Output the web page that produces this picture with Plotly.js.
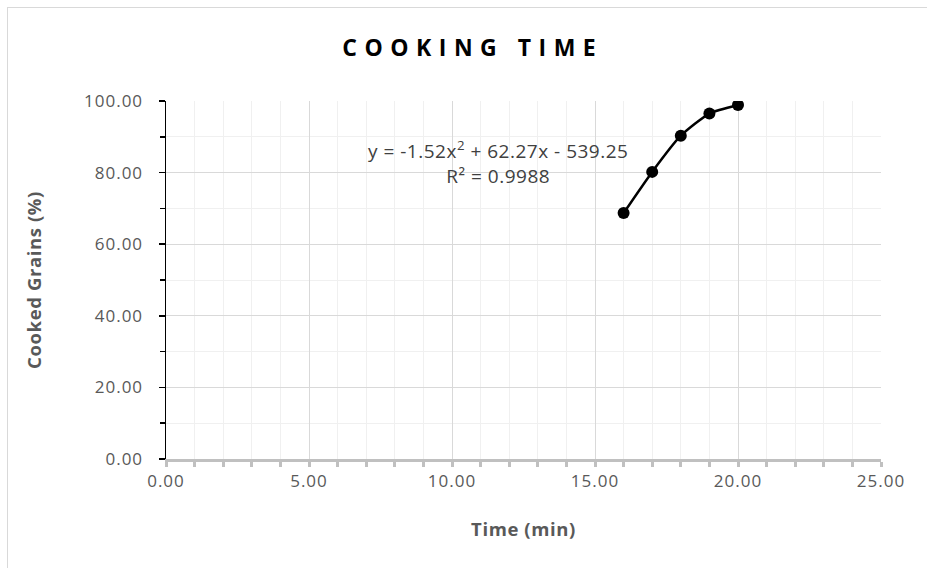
<!DOCTYPE html>
<html>
<head>
<meta charset="utf-8">
<script src="https://cdn.plot.ly/plotly-3.0.1.min.js"></script>
<style>
html,body{margin:0;padding:0;background:#fff;}
#wrap{position:relative;width:927px;height:568px;}
#chart{position:absolute;left:0;top:0;width:927px;height:568px;}
#frame{position:absolute;left:7px;top:7px;right:0;bottom:0;border-top:1px solid #d9d9d9;border-left:1px solid #d9d9d9;pointer-events:none;}
.gtitle{letter-spacing:7.5px;}
.xtick text,.ytick text{letter-spacing:1px;}
.xtitle,.ytitle{letter-spacing:0.6px;}
.annotation-text{letter-spacing:0.5px;}
</style>
</head>
<body>
<div id="wrap"><div id="chart"></div><div id="frame"></div></div>
<script>
// Data
const timeMin = [16, 17, 18, 19, 20];
const cookedPct = [68.7, 80.2, 90.3, 96.5, 98.9];
const chartTitle = "COOKING TIME";
const xTitle = "Time (min)";
const yTitle = "Cooked Grains (%)";
const trendText = "y = -1.52x<sup>2</sup> + 62.27x - 539.25<br>R² = 0.9988";
const trendPos = [11.6, 82.8];

const trace = {
  x: timeMin, y: cookedPct, type: 'scatter', mode: 'lines+markers',
  line: {color: '#000', width: 2.5, shape: 'spline', smoothing: 0.6},
  marker: {color: '#000', size: 12},
  hoverinfo: 'skip'
};

const FONT = '"Open Sans", sans-serif';
const tickFont = {family: FONT, size: 17, color: '#595959'};

const layout = {
  width: 927, height: 568,
  margin: {l: 166, r: 46, t: 101, b: 109},
  paper_bgcolor: '#fff', plot_bgcolor: '#fff',
  showlegend: false,
  title: {text: '<b>' + chartTitle + '</b>', x: 0.51, xanchor: 'center', y: 0.915, yanchor: 'middle',
          font: {family: FONT, size: 23, color: '#000'}},
  xaxis: {
    range: [0, 25], dtick: 5, tick0: 0, tickformat: '.2f',
    showgrid: true, gridcolor: '#d9d9d9', gridwidth: 1,
    zeroline: false, showline: true, linecolor: '#c0c0c0', linewidth: 3,
    ticks: 'outside', ticklen: 5, tickwidth: 3, tickcolor: '#c0c0c0',
    minor: {dtick: 1, showgrid: true, gridcolor: '#f0f0f0', gridwidth: 1, ticks: 'outside', ticklen: 5, tickwidth: 3, tickcolor: '#c0c0c0'},
    tickfont: tickFont, ticklabelstandoff: 0,
    title: {text: '<b>' + xTitle + '</b>', standoff: 32, font: {family: FONT, size: 18.5, color: '#595959'}},
    fixedrange: true
  },
  yaxis: {
    range: [0, 100], dtick: 20, tick0: 0, tickformat: '.2f',
    showgrid: true, gridcolor: '#d9d9d9', gridwidth: 1,
    zeroline: false, showline: true, linecolor: '#000', linewidth: 1.5,
    ticks: 'outside', ticklen: 6, tickwidth: 1.5, tickcolor: '#000',
    minor: {dtick: 10, showgrid: true, gridcolor: '#f0f0f0', gridwidth: 1, ticks: 'outside', ticklen: 5, tickwidth: 1.5, tickcolor: '#000'},
    tickfont: tickFont, ticklabelstandoff: 12,
    title: {text: '<b>' + yTitle + '</b>', standoff: 37, font: {family: FONT, size: 18.5, color: '#595959'}},
    fixedrange: true
  },
  annotations: [{
    x: trendPos[0], y: trendPos[1], xref: 'x', yref: 'y',
    text: trendText, showarrow: false, align: 'center',
    xanchor: 'center', yanchor: 'middle',
    font: {family: FONT, size: 19, color: '#404040'}
  }]
};

Plotly.newPlot('chart', [trace], layout, {displayModeBar: false, staticPlot: true});
</script>
</body>
</html>
